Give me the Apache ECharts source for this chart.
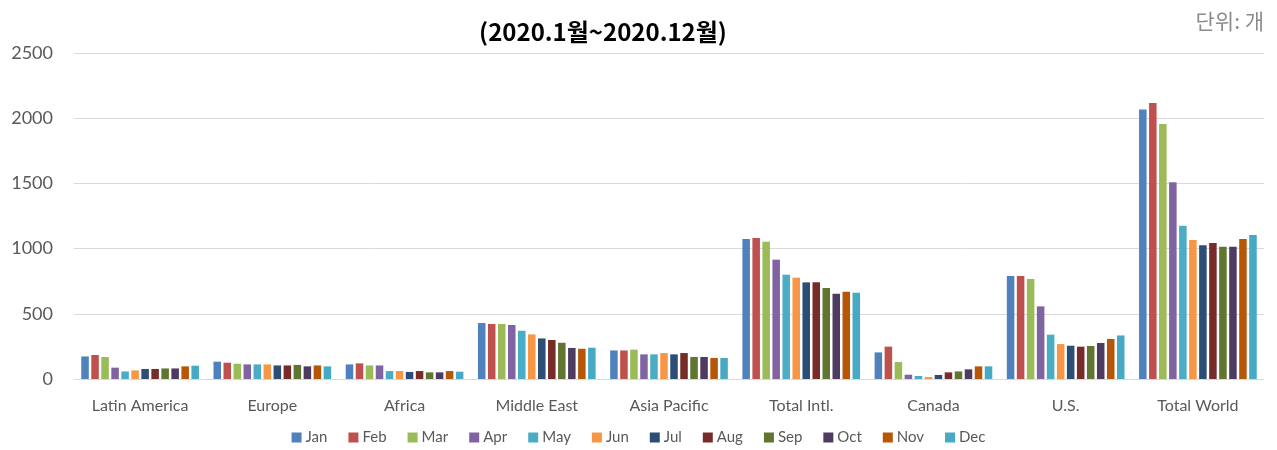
<!DOCTYPE html>
<html>
<head>
<meta charset="utf-8">
<script src="https://cdn.jsdelivr.net/npm/echarts@6/dist/echarts.min.js"></script>
<style>
html,body{margin:0;padding:0;background:#fff;}
#chart{width:1277px;height:450px;}
</style>
</head>
<body>
<div id="chart"></div>
<script>
const categories = ['Latin America','Europe','Africa','Middle East','Asia Pacific','Total Intl.','Canada','U.S.','Total World'];
const months = ['Jan','Feb','Mar','Apr','May','Jun','Jul','Aug','Sep','Oct','Nov','Dec'];
const yTicks = [0, 500, 1000, 1500, 2000, 2500];

// values per region, Jan..Dec 2020
const latinAmerica = [173, 184, 169, 87, 58, 66, 77, 77, 81, 81, 97, 102];
const europe       = [133, 125, 117, 112, 112, 112, 104, 104, 108, 97, 104, 97];
const africa       = [112, 120, 104, 104, 61, 61, 54, 61, 51, 51, 61, 56];
const middleEast   = [429, 422, 422, 414, 370, 342, 311, 299, 278, 238, 232, 240];
const asiaPacific  = [219, 219, 225, 189, 189, 199, 189, 199, 169, 169, 161, 161];
const totalIntl    = [1074, 1081, 1053, 915, 800, 777, 741, 741, 698, 654, 670, 662];
const canada       = [204, 248, 130, 33, 23, 15, 31, 51, 58, 74, 97, 97];
const us           = [790, 790, 767, 557, 340, 268, 255, 248, 253, 276, 307, 334];
const totalWorld   = [2066, 2117, 1956, 1508, 1176, 1066, 1025, 1043, 1015, 1015, 1074, 1104];

const regionValues = [latinAmerica, europe, africa, middleEast, asiaPacific, totalIntl, canada, us, totalWorld];
const colors = ['#4F81BD','#C0504D','#9BBB59','#8064A2','#4BACC6','#F79646','#2C4D75','#772C2A','#5F7530','#4D3B62','#B65708','#46AAC5'];

const latinFont = 'Lato, "Noto Sans CJK KR", sans-serif';
const cjkFont = '"Noto Sans CJK KR", "Noto Sans", sans-serif';

const series = months.map((m, i) => ({
  name: m,
  type: 'bar',
  data: regionValues.map(r => r[i]),
  itemStyle: { color: colors[i] },
  barGap: '33%',
  barCategoryGap: '11%',
  animation: false
}));

const chart = echarts.init(document.getElementById('chart'), null, { renderer: 'canvas' });
chart.setOption({
  animation: false,
  backgroundColor: '#ffffff',
  title: [
    {
      text: '(2020.1월~2020.12월)',
      left: 598, top: 15, textAlign: 'center',
      textStyle: { fontFamily: cjkFont, fontWeight: 'bold', fontSize: 24, color: '#000000' }
    },
    {
      text: '단위: 개',
      right: 8, top: 6,
      textStyle: { fontFamily: cjkFont, fontWeight: 'normal', fontSize: 21, color: '#8c8c8c' }
    }
  ],
  legend: {
    data: months,
    bottom: 0, left: 'center',
    itemWidth: 10, itemHeight: 10, itemGap: 21,
    icon: 'rect',
    textStyle: { fontFamily: latinFont, fontSize: 15, color: '#595959', padding: [0,0,0,-1] }
  },
  grid: { left: 74, right: 13, top: 53, bottom: 71, containLabel: false },
  xAxis: {
    type: 'category',
    data: categories,
    axisLine: { show: true, lineStyle: { color: '#d9d9d9', width: 1 } },
    axisTick: { show: false },
    axisLabel: { fontFamily: latinFont, fontSize: 16, color: '#595959', margin: 19 }
  },
  yAxis: {
    type: 'value',
    min: yTicks[0], max: yTicks[yTicks.length - 1], interval: 500,
    axisLine: { show: false },
    axisTick: { show: false },
    splitLine: { lineStyle: { color: '#d9d9d9', width: 1 } },
    axisLabel: { fontFamily: latinFont, fontSize: 18, color: '#595959', margin: 21, formatter: v => String(v) }
  },
  series: series
});
</script>
</body>
</html>
